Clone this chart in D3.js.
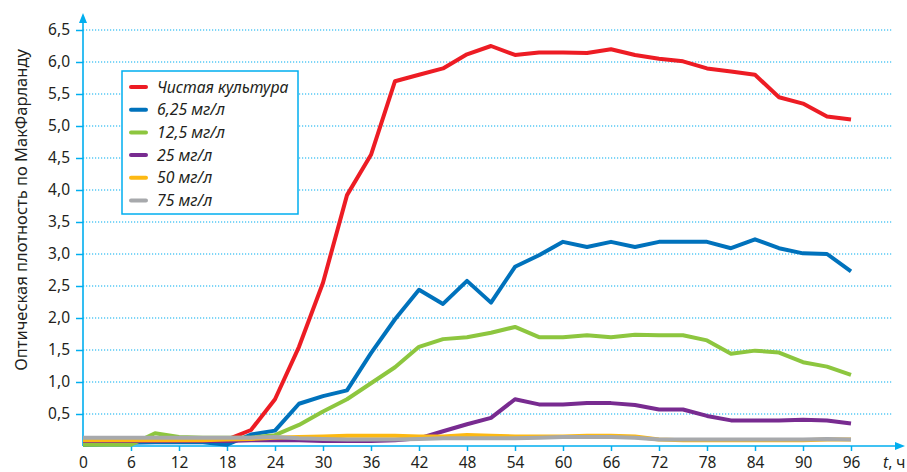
<!DOCTYPE html>
<html>
<head>
<meta charset="utf-8">
<script src="https://cdn.jsdelivr.net/npm/d3@7"></script>
<style>
  body { margin: 0; background: #fff; }
  text { font-family: "Noto Sans", "Open Sans", sans-serif; fill: #231f20; }
</style>
</head>
<body>
<div id="chart"></div>
<script>
// hours of measurement
var hours = [0, 3, 6, 9, 12, 15, 18, 21, 24, 27, 30, 33, 36, 39, 42, 45, 48,
             51, 54, 57, 60, 63, 66, 69, 72, 75, 78, 81, 84, 87, 90, 93, 96];

// optical density, McFarland
var pure   = [0.10, 0.10, 0.10, 0.10, 0.10, 0.10, 0.10, 0.25, 0.73, 1.55, 2.55, 3.92, 4.55, 5.70, 5.80, 5.90, 6.12,
              6.25, 6.11, 6.15, 6.15, 6.14, 6.20, 6.11, 6.05, 6.01, 5.90, 5.85, 5.80, 5.45, 5.35, 5.15, 5.10];
var c625   = [0.02, 0.03, 0.05, 0.06, 0.06, 0.06, 0.02, 0.18, 0.24, 0.66, 0.78, 0.87, 1.45, 1.98, 2.44, 2.22, 2.58,
              2.24, 2.80, 2.98, 3.19, 3.11, 3.19, 3.11, 3.19, 3.19, 3.19, 3.09, 3.23, 3.09, 3.01, 3.00, 2.73];
var c125   = [0.02, 0.02, 0.02, 0.20, 0.14, 0.13, 0.13, 0.13, 0.17, 0.33, 0.54, 0.73, 0.98, 1.23, 1.55, 1.67, 1.70,
              1.77, 1.86, 1.70, 1.70, 1.73, 1.70, 1.74, 1.73, 1.73, 1.65, 1.44, 1.49, 1.46, 1.31, 1.24, 1.11];
var c25    = [0.08, 0.08, 0.08, 0.08, 0.08, 0.08, 0.08, 0.09, 0.09, 0.09, 0.08, 0.08, 0.08, 0.09, 0.12, 0.23, 0.34,
              0.44, 0.73, 0.65, 0.65, 0.67, 0.67, 0.64, 0.57, 0.57, 0.47, 0.40, 0.40, 0.40, 0.41, 0.40, 0.35];
var c50    = [0.09, 0.09, 0.09, 0.09, 0.09, 0.09, 0.10, 0.11, 0.13, 0.14, 0.15, 0.16, 0.16, 0.16, 0.15, 0.15, 0.17,
              0.16, 0.15, 0.15, 0.15, 0.16, 0.16, 0.15, 0.10, 0.09, 0.09, 0.09, 0.09, 0.09, 0.09, 0.10, 0.10];
var c75    = [0.13, 0.13, 0.13, 0.13, 0.13, 0.13, 0.13, 0.13, 0.14, 0.12, 0.11, 0.10, 0.10, 0.10, 0.11, 0.12, 0.12,
              0.12, 0.12, 0.13, 0.14, 0.14, 0.14, 0.13, 0.10, 0.10, 0.10, 0.10, 0.10, 0.10, 0.10, 0.11, 0.10];

var seriesNames  = ["Чистая культура", "6,25 мг/л", "12,5 мг/л", "25 мг/л", "50 мг/л", "75 мг/л"];
var seriesValues = [pure, c625, c125, c25, c50, c75];
var seriesColors = ["#ed1c24", "#0072bc", "#8dc63f", "#782b90", "#fdb913", "#a7a9ac"];

var xTicks = [0, 6, 12, 18, 24, 30, 36, 42, 48, 54, 60, 66, 72, 78, 84, 90, 96];
var yTicks = [0.5, 1.0, 1.5, 2.0, 2.5, 3.0, 3.5, 4.0, 4.5, 5.0, 5.5, 6.0, 6.5];

var W = 907, H = 472;
var axisColor = "#00aeef";

var svg = d3.select("#chart").append("svg")
    .attr("width", W)
    .attr("height", H);

var x = d3.scaleLinear().domain([0, 96]).range([83, 851]);
var y = d3.scaleLinear().domain([0, 6.5]).range([446, 30]);
var fmt = function(v) { return d3.format(".1f")(v).replace(".", ","); };

// dotted grid
svg.append("g")
  .selectAll("line")
  .data(yTicks)
  .join("line")
    .attr("x1", 83).attr("x2", 893)
    .attr("y1", function(d) { return y(d); })
    .attr("y2", function(d) { return y(d); })
    .attr("stroke", axisColor)
    .attr("stroke-width", 1.2)
    .attr("stroke-dasharray", "1.2,1.8");

// y axis
var yAxis = svg.append("g")
    .attr("transform", "translate(83,0)")
    .call(d3.axisLeft(y).tickValues(yTicks).tickFormat(fmt).tickSize(7).tickPadding(6));
yAxis.select(".domain").remove();
yAxis.selectAll(".tick line").attr("stroke", axisColor).attr("stroke-width", 1.5);
yAxis.selectAll(".tick text").attr("font-size", 15.5).attr("fill", "#231f20")
    .attr("font-family", "Noto Sans");

// x axis
var xAxis = svg.append("g")
    .attr("transform", "translate(0,446)")
    .call(d3.axisBottom(x).tickValues(xTicks).tickFormat(d3.format("d")).tickSize(5).tickPadding(6));
xAxis.select(".domain").remove();
xAxis.selectAll(".tick line").attr("stroke", axisColor).attr("stroke-width", 1.5)
    .filter(function(d) { return d === 0; }).remove();
xAxis.selectAll(".tick text").attr("font-size", 15.5).attr("fill", "#231f20")
    .attr("font-family", "Noto Sans");

// axis lines with arrows
svg.append("line")
    .attr("x1", 83).attr("y1", 446).attr("x2", 83).attr("y2", 22)
    .attr("stroke", axisColor).attr("stroke-width", 1.6);
svg.append("path")
    .attr("d", "M83,13 L79,23 L87,23 Z")
    .attr("fill", axisColor);
svg.append("line")
    .attr("x1", 83).attr("y1", 446).attr("x2", 896).attr("y2", 446)
    .attr("stroke", axisColor).attr("stroke-width", 1.6);
svg.append("path")
    .attr("d", "M905,446 L895,442 L895,450 Z")
    .attr("fill", axisColor);

// axis titles
var tLabel = svg.append("text")
    .attr("x", 883).attr("y", 468)
    .attr("font-size", 15.5);
tLabel.append("tspan").attr("font-style", "italic").text("t");
tLabel.append("tspan").text(", ч");

svg.append("text")
    .attr("transform", "translate(27,210) rotate(-90)")
    .attr("text-anchor", "middle")
    .attr("font-size", 16.5)
    .text("Оптическая плотность по МакФарланду");

// lines
var line = d3.line()
    .x(function(d, i) { return x(hours[i]); })
    .y(function(d) { return y(d); });

svg.append("g")
  .selectAll("path")
  .data(seriesValues)
  .join("path")
    .attr("d", line)
    .attr("fill", "none")
    .attr("stroke", function(d, i) { return seriesColors[i]; })
    .attr("stroke-width", 4)
    .attr("stroke-linejoin", "round");

// legend
var lg = svg.append("g");
lg.append("rect")
    .attr("x", 122).attr("y", 71)
    .attr("width", 176).attr("height", 143)
    .attr("fill", "#fff")
    .attr("stroke", axisColor)
    .attr("stroke-width", 1.5);

var items = lg.selectAll("g.item")
  .data(seriesNames)
  .join("g")
    .attr("class", "item")
    .attr("transform", function(d, i) { return "translate(0," + (87 + i * 22.7) + ")"; });
items.append("line")
    .attr("x1", 131).attr("x2", 146)
    .attr("stroke", function(d, i) { return seriesColors[i]; })
    .attr("stroke-width", 4)
    .attr("stroke-linecap", "round");
items.append("text")
    .attr("x", 157).attr("y", 5.5)
    .attr("font-size", 15.8)
    .attr("font-style", "italic")
    .text(function(d) { return d; });
</script>
</body>
</html>
